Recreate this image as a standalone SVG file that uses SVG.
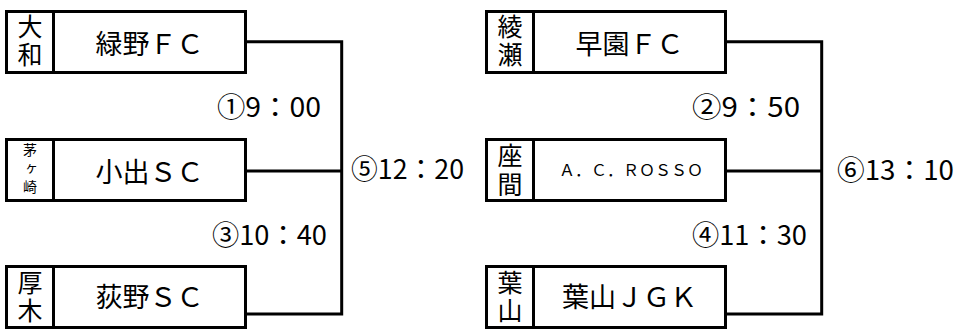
<svg xmlns="http://www.w3.org/2000/svg" width="954" height="329" viewBox="0 0 954 329">
<style>
text{font-family:"Noto Sans CJK JP","Noto Sans",sans-serif;fill:#000;dominant-baseline:central}
.box{fill:#fff;stroke:#000;stroke-width:3}
.div{stroke:#000;stroke-width:3}
.name{font-size:27px;text-anchor:middle}
.side{font-size:25px;text-anchor:middle;writing-mode:vertical-rl;letter-spacing:3.5px}
.small{font-size:14px;text-anchor:middle;writing-mode:vertical-rl;letter-spacing:4.5px}
.rosso{font-size:16px;text-anchor:middle}
.time{font-size:27px}
.conn{fill:none;stroke:#000;stroke-width:3}
</style>
<rect width="954" height="329" fill="#fff"/>
<g id="connectors">
<path class="conn" d="M245.5 41.7H341.7V314H245.5M245.5 171H341.7"/>
<path class="conn" d="M725.5 41.7H821.7V314H725.5M725.5 171H821.7"/>
</g>
<g id="team-midorino">
<rect class="box" x="6.5" y="11.5" width="239" height="61"/>
<line class="div" x1="53.5" y1="11.5" x2="53.5" y2="72.5"/>
<text class="side" x="30" y="42">大和</text>
<text class="name" x="149.5" y="42">緑野ＦＣ</text>
</g>
<g id="team-koide">
<rect class="box" x="6.5" y="139.5" width="239" height="61"/>
<line class="div" x1="53.5" y1="139.5" x2="53.5" y2="200.5"/>
<text class="small" x="30" y="170.5">茅ヶ崎</text>
<text class="name" x="149.5" y="170">小出ＳＣ</text>
</g>
<g id="team-ogino">
<rect class="box" x="6.5" y="266.5" width="239" height="61"/>
<line class="div" x1="53.5" y1="266.5" x2="53.5" y2="327.5"/>
<text class="side" x="30" y="298">厚木</text>
<text class="name" x="149.5" y="295">荻野ＳＣ</text>
</g>
<g id="team-hayazono">
<rect class="box" x="486.5" y="11.5" width="239" height="61"/>
<line class="div" x1="533.5" y1="11.5" x2="533.5" y2="72.5"/>
<text class="side" x="510" y="42">綾瀬</text>
<text class="name" x="629.5" y="42">早園ＦＣ</text>
</g>
<g id="team-rosso">
<rect class="box" x="486.5" y="139.5" width="239" height="61"/>
<line class="div" x1="533.5" y1="139.5" x2="533.5" y2="200.5"/>
<text class="side" x="510" y="171.5">座間</text>
<text class="rosso" x="631" y="169">Ａ．Ｃ．ＲＯＳＳＯ</text>
</g>
<g id="team-hayama">
<rect class="box" x="486.5" y="266.5" width="239" height="61"/>
<line class="div" x1="533.5" y1="266.5" x2="533.5" y2="327.5"/>
<text class="side" x="510" y="298">葉山</text>
<text class="name" x="629.5" y="295">葉山ＪＧＫ</text>
</g>
<g id="labels">
<text class="time" x="217" y="105" textLength="104" lengthAdjust="spacingAndGlyphs">①9：00</text>
<text class="time" x="212" y="233" textLength="115" lengthAdjust="spacingAndGlyphs">③10：40</text>
<text class="time" x="351" y="167.5" textLength="113" lengthAdjust="spacingAndGlyphs">⑤12：20</text>
<text class="time" x="692" y="105" textLength="108" lengthAdjust="spacingAndGlyphs">②9：50</text>
<text class="time" x="692" y="233" textLength="115" lengthAdjust="spacingAndGlyphs">④11：30</text>
<text class="time" x="837" y="168" textLength="117" lengthAdjust="spacingAndGlyphs">⑥13：10</text>
</g>
</svg>
